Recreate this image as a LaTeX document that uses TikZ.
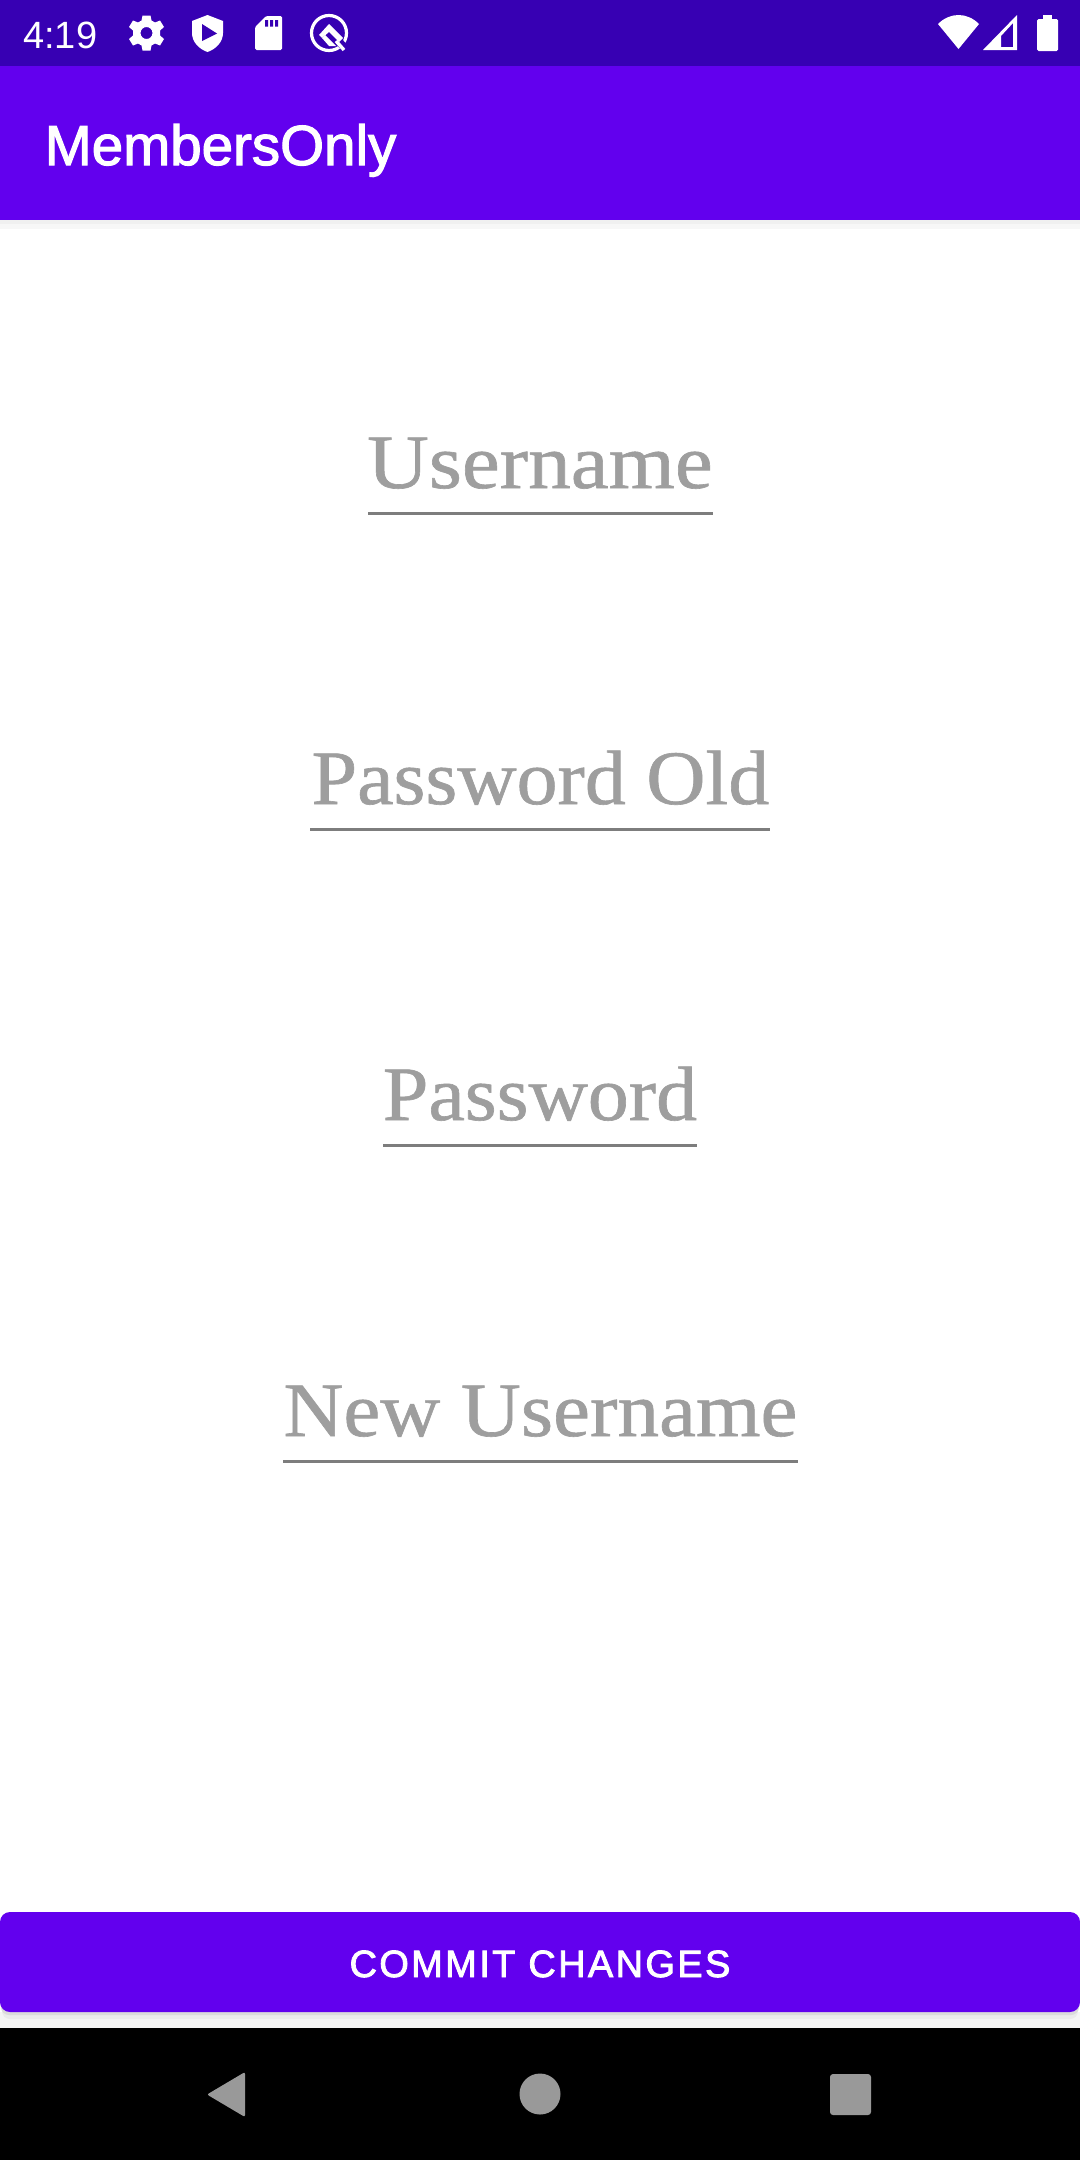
\documentclass[tikz,border=0pt]{standalone}
\usepackage{fontspec}
\setmainfont{Liberation Sans}
\newfontfamily\titlefont[FakeBold=2]{Liberation Sans}
\newfontfamily\btnfont[FakeBold=2.2,LetterSpace=6.2]{Liberation Sans}
\newfontfamily\fieldfontA[FakeStretch=1.107,FakeBold=0.8]{Liberation Serif}
\newfontfamily\fieldfontB[FakeStretch=1.065,FakeBold=0.8]{Liberation Serif}
\newfontfamily\fieldfontC[FakeStretch=1.078,FakeBold=0.8]{Liberation Serif}
\definecolor{statusc}{HTML}{3700B3}
\definecolor{primaryc}{HTML}{6200EE}
\definecolor{hintc}{HTML}{9E9E9E}
\definecolor{linec}{HTML}{7D7D7D}
\definecolor{navc}{HTML}{999999}
\tikzset{
  fieldbase/.style={anchor=base,inner sep=0pt,text=hintc},
  fieldtext/.style={fieldbase,font=\fieldfontB\fontsize{77}{80}\selectfont},
  fieldtextwide/.style={fieldbase,font=\fieldfontA\fontsize{77}{80}\selectfont},
  fieldtextmid/.style={fieldbase,font=\fieldfontC\fontsize{77}{80}\selectfont},
  fieldline/.style={draw=linec,line width=3pt},
  icon/.style={fill=white,draw=none}
}
\begin{document}
\begin{tikzpicture}[x=1pt,y=-1pt]
\useasboundingbox (0,0) rectangle (1079.7,2160);
\fill[white] (0,0) rectangle (1080,2160);
% bars
\fill[black!6] (0,220) rectangle (1080,224);
\fill[black!3] (0,224) rectangle (1080,229);
\fill[primaryc] (0,66) rectangle (1080,220);
\fill[statusc] (0,0) rectangle (1080,66);
\node[anchor=base west,inner sep=0pt,text=white,font=\fontsize{38}{40}\selectfont] (time) at (23,48) {4:19};
\node[anchor=base west,inner sep=0pt,text=white,font=\titlefont\fontsize{56.5}{60}\selectfont] (title) at (44.5,165) {MembersOnly};
% gear
\fill[icon,even odd rule] (146.5,33)
  +(-4,-17.5) -- +(4,-17.5) -- +(5,-12.5) -- +(8.5,-10.5) -- +(13.5,-12.5) -- +(17.5,-6) -- +(13.5,-2.5) -- +(13.5,2.5) -- +(17.5,6) -- +(13.5,12.5) -- +(8.5,10.5) -- +(5,12.5) -- +(4,17.5) -- +(-4,17.5) -- +(-5,12.5) -- +(-8.5,10.5) -- +(-13.5,12.5) -- +(-17.5,6) -- +(-13.5,2.5) -- +(-13.5,-2.5) -- +(-17.5,-6) -- +(-13.5,-12.5) -- +(-8.5,-10.5) -- +(-5,-12.5) -- cycle
  (146.5,33) circle (6);
% shield
\fill[icon] (207.5,15) -- (223,21) -- (223,33) .. controls (223,42) and (216,49) .. (207.5,52) .. controls (199,49) and (192,42) .. (192,33) -- (192,21) -- cycle;
\fill[statusc] (202,24) -- (217,33.5) -- (202,41) -- cycle;
% sd card
\fill[icon,rounded corners=1.5pt] (266,16) -- (282,16) -- (282,50) -- (255,50) -- (255,27) -- cycle;
\fill[statusc] (265,20) rectangle (268,26.5) (270,20) rectangle (273,26.5) (275,20) rectangle (278,26.5);
% Q badge
\draw[white,line width=3.2pt] (329,33) circle (17.5);
\fill[statusc] (336,44) -- (343,52) -- (349,47) -- (342,39) -- cycle;
\draw[white,line width=3.4pt] (336,41) -- (344,50);
\fill[icon] (329,24) -- (343,38) -- (339,42) -- (329,32) -- (322,38) -- (319,35) -- cycle;
\fill[icon] (322,38) -- (325,35) -- (336,46) -- (329,46) -- cycle;
% wifi
\fill[icon] (938,24) .. controls (950,12) and (967,12) .. (979,24) -- (958.5,49) -- cycle;
% signal
\fill[icon,even odd rule] (983,50) -- (1017,15) -- (1017,50) -- cycle (1001,47) -- (1013,47) -- (1013,23) -- (1001,36) -- cycle;
% battery
\fill[icon,rounded corners=1.5pt] (1037,19) rectangle (1058,51);
\fill[icon] (1043,15) rectangle (1052,20);
% fields
\node[fieldtextwide] (username) at (540,488) {Username};
\coordinate (u1) at (368,513); \coordinate (u2) at (712.5,513);
\draw[fieldline] (u1) -- (u2);
\node[fieldtext] (passold) at (540.5,804) {Password Old};
\coordinate (o1) at (310,829); \coordinate (o2) at (770,829);
\draw[fieldline] (o1) -- (o2);
\node[fieldtext] (pass) at (540,1120) {Password};
\coordinate (p1) at (383,1145); \coordinate (p2) at (697,1145);
\draw[fieldline] (p1) -- (p2);
\node[fieldtextmid] (newuser) at (540.5,1436) {New Username};
\coordinate (n1) at (283,1461); \coordinate (n2) at (798,1461);
\draw[fieldline] (n1) -- (n2);
% button
\fill[black!4] (0,2012) rectangle (1080,2028);
\fill[black!8,rounded corners=8pt] (2,1920) rectangle (1078,2019);
\fill[black!14,rounded corners=8pt] (1,1920) rectangle (1079,2015);
\node[fill=primaryc,rounded corners=10pt,minimum width=1080pt,minimum height=100pt,inner sep=0pt,outer sep=0pt] (btn) at (540,1962) {};
\node[anchor=base,inner sep=0pt,text=white,font=\btnfont\fontsize{38}{40}\selectfont] (btntext) at (540,1977) {COMMIT CHANGES};
% nav
\fill[black] (0,2028) rectangle (1080,2160);
\fill[navc,rounded corners=2pt] (245,2072) -- (245,2117) -- (207,2094.5) -- cycle;
\fill[navc] (540,2094) circle (20.5);
\fill[navc,rounded corners=3pt] (830,2074) rectangle (871,2115);
\end{tikzpicture}
\end{document}
